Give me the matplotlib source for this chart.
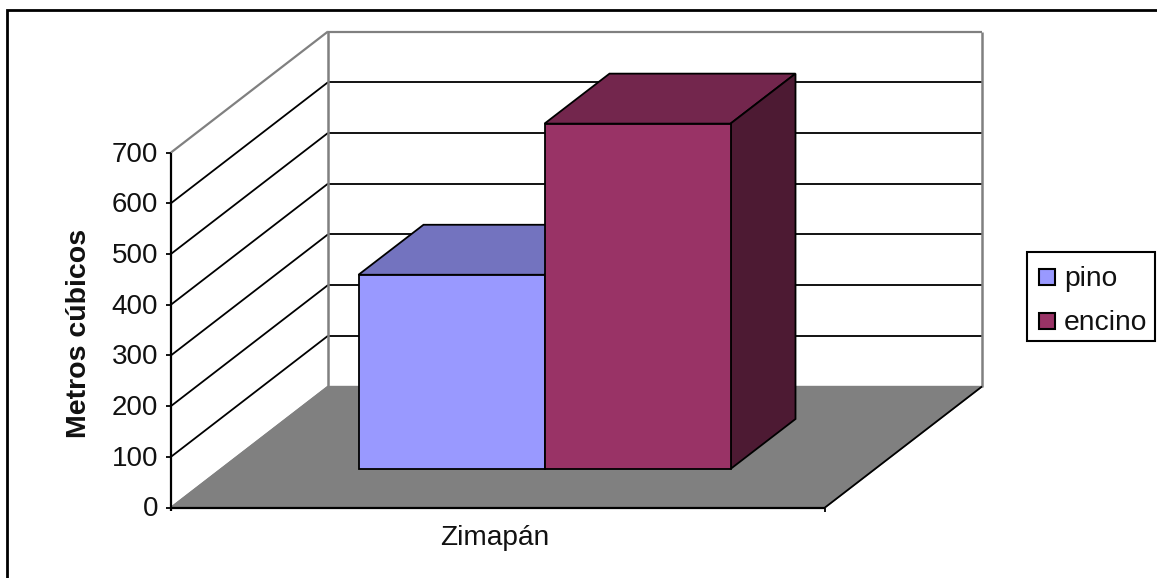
import matplotlib
matplotlib.use('Agg')
import matplotlib.pyplot as plt
from matplotlib.patches import Polygon, Rectangle

series = ['pino', 'encino']
values = [383, 681]
colors = ['#9999FF', '#993366']
tops = ['#7373BF', '#73264D']
sides = ['#4D4D80', '#4D1A33']
category = 'Zimapán'
ticks = [0, 100, 200, 300, 400, 500, 600, 700]
ylabel = 'Metros cúbicos'

plt.rcParams['font.family'] = ['Liberation Sans', 'DejaVu Sans']

fig = plt.figure(figsize=(11.57, 5.78), dpi=100)
ax = fig.add_axes([0, 0, 1, 1])
ax.set_xlim(0, 1157)
ax.set_ylim(578, 0)
ax.axis('off')

# oblique projection of the excel 3d box, in pixels
x0, x1 = 171, 825
y0 = 507.5
scale = 355 / 700.
dx, dy = 157, -121


def vy(v):
    return y0 - v * scale


def line(xs, ys, c='k', lw=1.3, z=2):
    ax.plot(xs, ys, color=c, lw=lw, zorder=z, solid_capstyle='butt')


# frame
ax.add_patch(Rectangle((7, 10), 1170, 600, fc='white', ec='k', lw=2, zorder=0))

# floor
ax.add_patch(Polygon([(x0, y0), (x1, y0), (x1 + dx, y0 + dy), (x0 + dx, y0 + dy)],
                     fc='#808080', ec='#808080', lw=1, zorder=1))

# gridlines, side wall and back wall
for t in ticks[1:-1]:
    line([x0, x0 + dx], [vy(t), vy(t) + dy])
    line([x0 + dx, x1 + dx], [vy(t) + dy, vy(t) + dy])
line([x0, x0 + dx], [vy(700), vy(700) + dy], c='#808080', lw=1.6)
line([x0 + dx, x1 + dx], [vy(700) + dy, vy(700) + dy], c='#808080', lw=1.6)
line([x0 + dx, x0 + dx], [vy(0) + dy, vy(700) + dy], c='#808080', lw=1.8)
line([x1 + dx, x1 + dx], [vy(0) + dy, vy(700) + dy], c='#808080', lw=1.8)
line([x0, x0 + dx], [y0, y0 + dy], c='#808080', lw=1.3)
line([x0 + dx, x1 + dx], [y0 + dy, y0 + dy], c='#808080', lw=1.3)
line([x1, x1 + dx], [y0, y0 + dy], c='k', lw=1.3)

# axes and ticks
line([x0, x0], [vy(0) + 3, vy(700)], lw=1.6, z=3)
line([x0, x1], [y0, y0], lw=1.6, z=3)
line([x1, x1], [y0, y0 + 4], lw=1.3, z=3)
for t in ticks:
    line([x0 - 5, x0], [vy(t), vy(t)], lw=1.3, z=3)
    ax.text(x0 - 13, vy(t) + 2, str(t), ha='right', va='center', fontsize=20, color='#111111')

ax.text(79.5, 333, ylabel, rotation=90, ha='center', va='center', fontsize=20.5, fontweight='bold', color='#111111')
ax.text(495, 538, category, ha='center', va='center', fontsize=20.2, color='#111111')

# bars
bar_w = 186
bar_x = 358.5
lift = -38.5     # bar base above the front edge
bdx, bdy = 65, -50
for i, v in enumerate(values):
    l = bar_x + i * bar_w
    r = l + bar_w
    b = y0 + lift
    t = b - v * scale
    z = 4 + i
    ax.add_patch(Polygon([(l, t), (r, t), (r + bdx, t + bdy), (l + bdx, t + bdy)],
                         fc=tops[i], ec='k', lw=1.3, zorder=z))
    ax.add_patch(Polygon([(r, b), (r, t), (r + bdx, t + bdy), (r + bdx, b + bdy)],
                         fc=sides[i], ec='k', lw=1.3, zorder=z))
    ax.add_patch(Rectangle((l, t), bar_w, b - t, fc=colors[i], ec='k', lw=1.3, zorder=z + 0.5))

# legend
ax.add_patch(Rectangle((1027, 252), 128, 89, fc='white', ec='k', lw=1.5, zorder=6))
for i, s in enumerate(series):
    yc = 277 + i * 44
    ax.add_patch(Rectangle((1038.5, yc - 8), 16, 16, fc=colors[i], ec='k', lw=1.5, zorder=7))
    ax.text(1064, yc + 2, s, ha='left', va='center', fontsize=20.3, color='#111111', zorder=7)

fig.savefig('out.png', dpi=100)
plt.close()
